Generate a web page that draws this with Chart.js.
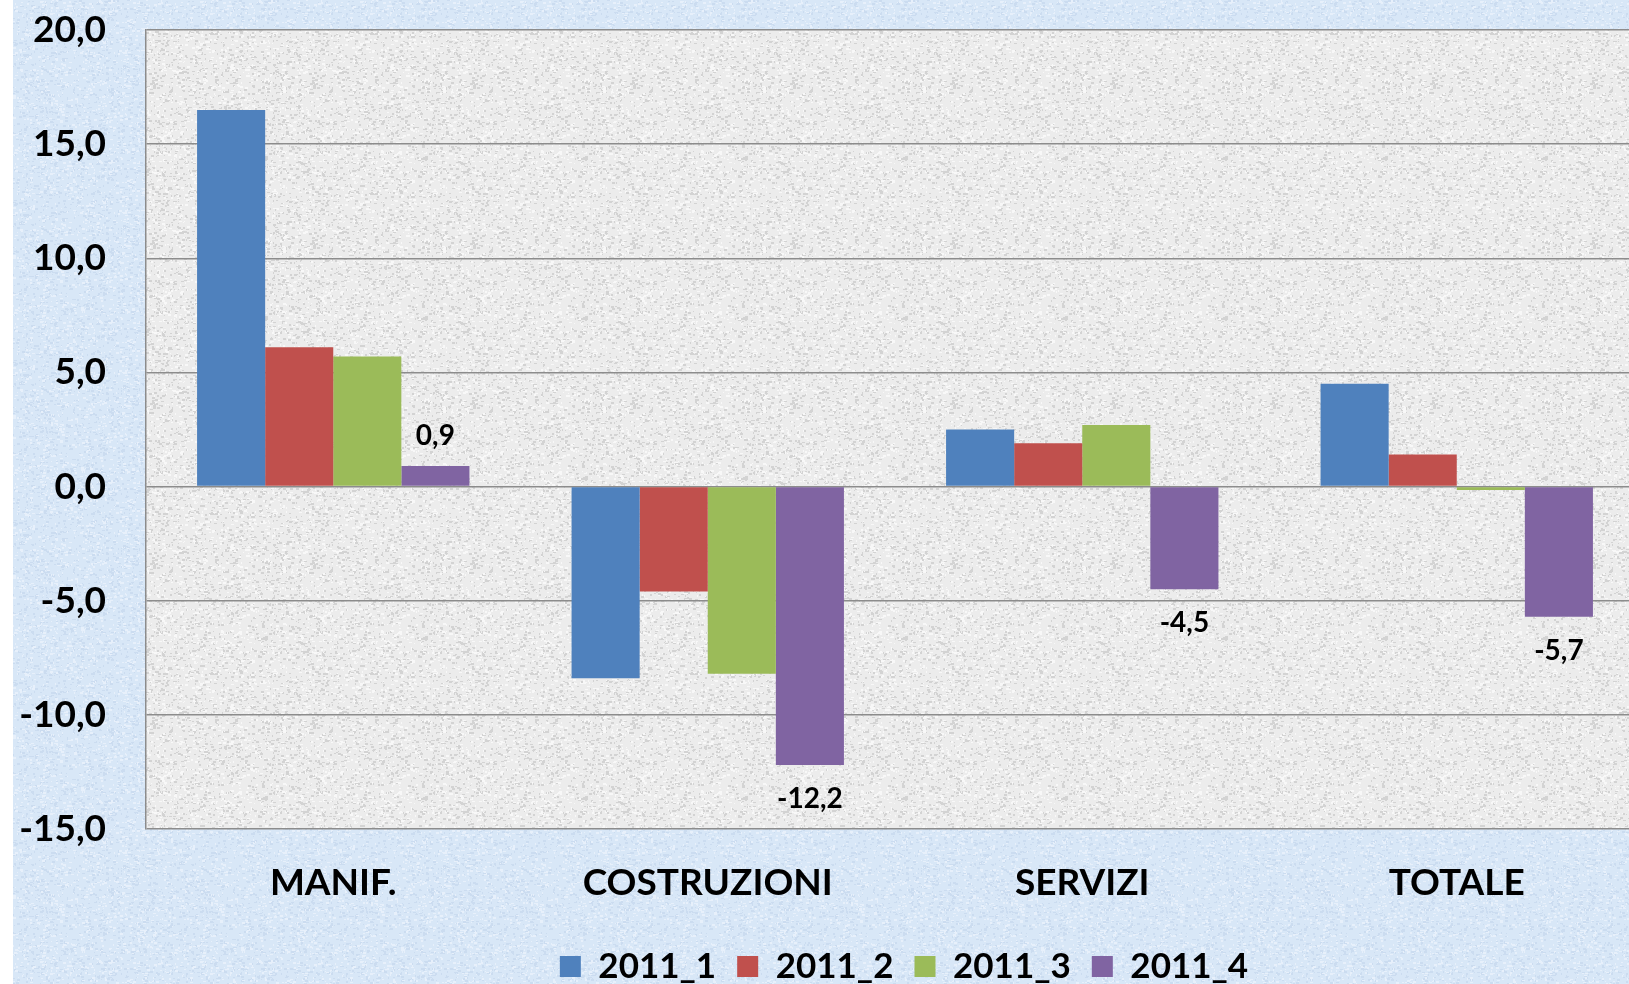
<!DOCTYPE html>
<html>
<head>
<meta charset="utf-8">
<title>Variazioni 2011</title>
<script src="https://cdn.jsdelivr.net/npm/chart.js@4.4.1/dist/chart.umd.min.js"></script>
<style>
  html, body { margin: 0; padding: 0; overflow: hidden; background: #ffffff; }
  #wrap { position: absolute; left: 13px; top: 0; width: 1782px; height: 994px; }
</style>
</head>
<body>
<div id="wrap"><canvas id="chart"></canvas></div>
<script>
// data
const categories = ['MANIF.', 'COSTRUZIONI', 'SERVIZI', 'TOTALE'];
const seriesNames = ['2011_1', '2011_2', '2011_3', '2011_4'];
const q1 = [16.5, -8.4, 2.5, 4.5];
const q2 = [6.1, -4.6, 1.9, 1.4];
const q3 = [5.7, -8.2, 2.7, -0.15];
const q4 = [0.9, -12.2, -4.5, -5.7];
const yMin = -15;
const yMax = 20;
const yStep = 5;
// only the last series carries value labels
const labelledSeries = 3;

const colors = ['#4f81bd', '#c0504d', '#9bbb59', '#8064a2'];
const gridColor = '#8c8c8c';
const fontFamily = 'Lato, "Open Sans", sans-serif';

function fmt(v) {
    return v.toFixed(1).replace('.', ',');
}

// speckled fill, deterministic
function makeTexture(base, dark, light, seed) {
    var c = document.createElement('canvas');
    c.width = 160;
    c.height = 160;
    var g = c.getContext('2d');
    g.fillStyle = base;
    g.fillRect(0, 0, 160, 160);
    var s = seed;
    function next() {
        s = (s * 16807) % 2147483647;
        return s / 2147483647;
    }
    for (var i = 0; i < 2600; i++) {
        g.fillStyle = next() < 0.55 ? dark : light;
        g.fillRect(Math.floor(next() * 160), Math.floor(next() * 160),
            1 + Math.floor(next() * 3), 1 + Math.floor(next() * 2));
    }
    return c;
}

const backgroundPlugin = {
    id: 'backgrounds',
    beforeDraw(chart) {
        var ctx = chart.ctx;
        var a = chart.chartArea;
        ctx.save();
        ctx.fillStyle = ctx.createPattern(makeTexture('#d8e7f7', '#cbdcf0', '#e7f0fb', 7), 'repeat');
        ctx.fillRect(0, 0, chart.width, chart.height);
        ctx.fillStyle = ctx.createPattern(makeTexture('#ececec', '#d3d3d3', '#f8f8f8', 13), 'repeat');
        ctx.fillRect(a.left, a.top, a.right - a.left, a.bottom - a.top);
        ctx.restore();
    }
};

const valueLabelPlugin = {
    id: 'valueLabels',
    afterDatasetsDraw(chart) {
        var ctx = chart.ctx;
        var meta = chart.getDatasetMeta(labelledSeries);
        var values = chart.data.datasets[labelledSeries].data;
        ctx.save();
        ctx.font = 'bold 28px ' + fontFamily;
        ctx.fillStyle = '#000000';
        ctx.textAlign = 'center';
        ctx.textBaseline = 'middle';
        meta.data.forEach(function (bar, i) {
            var v = values[i];
            var y = v >= 0 ? bar.y - 30 : bar.y + 34;
            ctx.fillText(fmt(v), bar.x, y);
        });
        ctx.restore();
    }
};

function render() {
    var seriesValues = [q1, q2, q3, q4];
    var datasets = seriesNames.map(function (name, i) {
        return {
            label: name,
            data: seriesValues[i],
            backgroundColor: colors[i],
            borderWidth: 0,
            categoryPercentage: 4 / 5.5,
            barPercentage: 1.0
        };
    });

    new Chart(document.getElementById('chart'), {
        type: 'bar',
        data: {labels: categories, datasets: datasets},
        plugins: [backgroundPlugin, valueLabelPlugin],
        options: {
            responsive: true,
            maintainAspectRatio: false,
            animation: false,
            layout: {padding: {top: 30, right: 0, bottom: 0, left: 0}},
            plugins: {
                tooltip: {enabled: false},
                legend: {
                    position: 'bottom',
                    labels: {
                        boxWidth: 21,
                        boxHeight: 21,
                        padding: 21,
                        color: '#000000',
                        font: {family: fontFamily, size: 35, weight: 'bold'}
                    }
                }
            },
            scales: {
                x: {
                    grid: {display: false, drawTicks: false},
                    border: {display: false},
                    ticks: {
                        padding: 32,
                        color: '#000000',
                        font: {family: fontFamily, size: 37, weight: 'bold'}
                    },
                    afterFit(scale) { scale.height = 99; }
                },
                y: {
                    min: yMin,
                    max: yMax,
                    // invisible tick marks keep the labels away from the plot
                    grid: {color: gridColor, lineWidth: 1.5, drawTicks: true, tickLength: 40, tickColor: 'rgba(0,0,0,0)'},
                    border: {display: true, color: gridColor, width: 1.5},
                    ticks: {
                        stepSize: yStep,
                        padding: 0,
                        color: '#000000',
                        font: {family: fontFamily, size: 37, weight: 'bold'},
                        callback: function (v) { return fmt(v); }
                    },
                    afterFit(scale) { scale.width = 133; }
                },
                // spacer on the right: the original plot runs past the picture edge
                spacer: {
                    type: 'linear',
                    position: 'right',
                    grid: {display: false},
                    border: {display: false},
                    ticks: {display: false},
                    afterFit(scale) { scale.width = 151; }
                }
            }
        }
    });
}

if (document.fonts && document.fonts.load) {
    document.fonts.load('bold 35px Lato').then(render, render);
} else {
    render();
}
</script>
</body>
</html>
